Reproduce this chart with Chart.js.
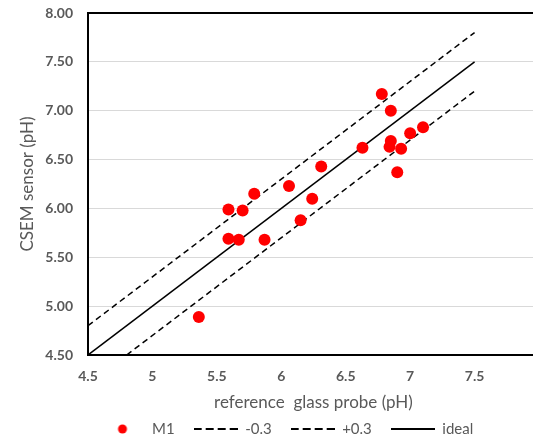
<!DOCTYPE html>
<html>
<head>
<meta charset="utf-8">
<script src="https://cdn.jsdelivr.net/npm/chart.js@4"></script>
<style>
  html, body { margin: 0; padding: 0; background: #fff; overflow: hidden; }
  #wrap { width: 539px; height: 439px; }
</style>
</head>
<body>
<div id="wrap"><canvas id="phChart" width="539" height="439"></canvas></div>
<script>
// reference glass probe vs CSEM sensor, series M1
const refGlass = [5.59, 5.70, 5.79, 5.59, 5.67, 5.87, 5.36, 6.06, 6.24, 6.15,
                  6.31, 6.63, 6.78, 6.85, 6.85, 6.84, 6.93, 6.90, 7.00, 7.10];
const csemSensor = [5.99, 5.98, 6.15, 5.69, 5.68, 5.68, 4.89, 6.23, 6.10, 5.88,
                    6.43, 6.62, 7.17, 7.00, 6.69, 6.63, 6.61, 6.37, 6.77, 6.83];

// reference lines (end points in pH)
const minusX = [4.8, 7.5], minusY = [4.5, 7.2];
const plusX  = [4.5, 7.5], plusY  = [4.8, 7.8];
const idealX = [4.5, 7.5], idealY = [4.5, 7.5];

const seriesNames = ['M1', '-0.3', '+0.3', 'ideal'];
const xTicks = [4.5, 5, 5.5, 6, 6.5, 7, 7.5];

const toPoints = (xs, ys) => xs.map((x, i) => ({ x: x, y: ys[i] }));

Chart.defaults.font.family = 'Lato, "Open Sans", sans-serif';

// little pictures for the legend
function legendIcon(kind) {
  const c = document.createElement('canvas');
  c.width = 44; c.height = 10;
  const g = c.getContext('2d');
  if (kind === 'dot') {
    g.fillStyle = '#ff0000';
    g.beginPath(); g.arc(22, 5, 4.5, 0, Math.PI * 2); g.fill();
  } else {
    g.strokeStyle = '#000';
    g.lineWidth = 2;
    if (kind === 'dash') g.setLineDash([8, 4]);
    g.beginPath(); g.moveTo(0, 5); g.lineTo(44, 5); g.stroke();
  }
  return c;
}
const icons = [legendIcon('dot'), legendIcon('dash'), legendIcon('dash'), legendIcon('solid')];

const legendShift = {
  id: 'legendShift',
  afterLayout(chart) {
    chart.legend.left = 81.5;
  }
};

const lineStyle = {
  showLine: true,
  borderColor: '#000',
  backgroundColor: '#000',
  borderWidth: 1.5,
  pointRadius: 0,
  pointHoverRadius: 0
};

new Chart(document.getElementById('phChart'), {
  type: 'scatter',
  data: {
    datasets: [
      {
        label: seriesNames[0],
        data: toPoints(refGlass, csemSensor),
        backgroundColor: '#ff0000',
        borderColor: '#ff0000',
        borderWidth: 0,
        pointRadius: 6,
        showLine: false
      },
      Object.assign({ label: seriesNames[1], data: toPoints(minusX, minusY), borderDash: [6, 4] }, lineStyle),
      Object.assign({ label: seriesNames[2], data: toPoints(plusX, plusY), borderDash: [6, 4] }, lineStyle),
      Object.assign({ label: seriesNames[3], data: toPoints(idealX, idealY) }, lineStyle)
    ]
  },
  options: {
    responsive: false,
    animation: false,
    layout: { autoPadding: false, padding: { top: 13, left: 0, right: 0, bottom: -7.5 } },
    plugins: {
      tooltip: { enabled: false },
      legend: {
        position: 'bottom',
        align: 'start',
        labels: {
          usePointStyle: true,
          pointStyleWidth: 44,
          padding: 19,
          color: '#595959',
          font: { size: 15 },
          generateLabels(chart) {
            const items = Chart.defaults.plugins.legend.labels.generateLabels(chart);
            items.forEach((it, i) => { it.pointStyle = icons[i]; });
            return items;
          }
        }
      }
    },
    scales: {
      x: {
        type: 'linear',
        min: 4.5,
        max: 8,
        afterBuildTicks(scale) { scale.ticks = xTicks.map(v => ({ value: v })); },
        afterFit(scale) {
          scale.height = 47.5;
          scale.paddingLeft = 0;
          scale.paddingRight = 0;
        },
        ticks: {
          padding: 13,
          color: '#595959',
          font: { size: 14, weight: 'bold' },
          callback: v => String(v)
        },
        grid: { display: false, drawTicks: false },
        border: { display: true, color: '#000', width: 2 },
        title: {
          display: true,
          text: 'reference  glass probe (pH)',
          color: '#595959',
          font: { size: 17 },
          padding: { top: 0, bottom: -10.7 }
        }
      },
      y: {
        type: 'linear',
        min: 4.5,
        max: 8,
        afterFit(scale) {
          scale.width = 88;
          scale.paddingTop = 0;
          scale.paddingBottom = 0;
        },
        ticks: {
          stepSize: 0.5,
          padding: 15,
          color: '#595959',
          font: { size: 14, weight: 'bold' },
          callback: v => v.toFixed(2)
        },
        grid: {
          drawTicks: false,
          color: ctx => (ctx.tick && ctx.tick.value === 8 ? '#000' : '#d9d9d9'),
          lineWidth: ctx => (ctx.tick && ctx.tick.value === 8 ? 2 : 1)
        },
        border: { display: true, color: '#000', width: 2 },
        title: {
          display: true,
          text: 'CSEM sensor (pH)',
          color: '#595959',
          font: { size: 17 },
          padding: { top: 17.8, bottom: 0 }
        }
      }
    }
  },
  plugins: [legendShift]
});
</script>
</body>
</html>
